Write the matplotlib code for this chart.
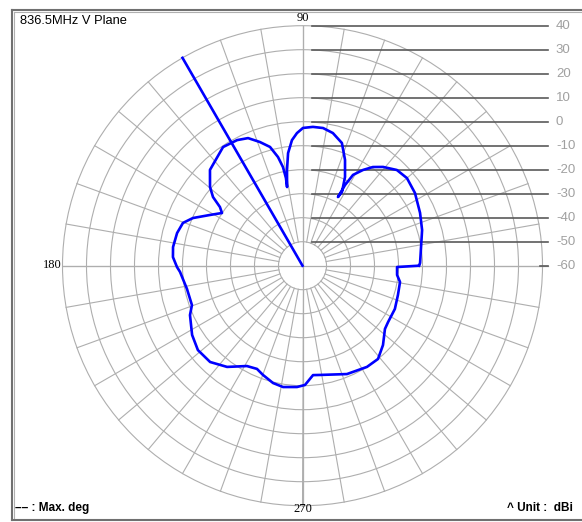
import numpy as np
import matplotlib.pyplot as plt
from matplotlib.patches import Circle

title = "836.5MHz V Plane"
angles = [0, 1.3, 16.6, 24.2, 32.9, 40.0, 45.4, 50.8, 54.5, 57.7, 60.9, 62.2, 62.7,
          61.8, 64.4, 68.1, 72.2, 77.1, 81.5, 85.7, 89.8, 92.4, 94.8, 97.3, 99.2, 101.1,
          100.7, 101.2, 102.7, 105.3, 109.0, 113.1, 117.5, 123.8, 134.0, 139.6, 142.5,
          144.6, 146.8, 151.3, 156.5, 160.3, 165.4, 171.8, 176.2, 180.6, 182.9, 191.4,
          199.6, 203.7, 212.1, 218.9, 226.2, 233.3, 241.0, 246.2, 250.1, 255.9, 260.9,
          267.4, 271.2, 275.5, 279.1, 292.3, 302.5, 309.0, 315.4, 322.5, 326.6, 334.9,
          342.9, 350.5, 354.4, 359.2]
gain = [-11.5, -11.0, -8.0, -6.3, -4.2, -3.2, -4.0, -6.9, -9.5, -12.8, -16.7, -22.0, -27.8,
        -25.2, -19.0, -12.5, -6.3, -3.3, -2.0, -2.0, -2.6, -4.7, -7.5, -12.7, -19.6, -26.6,
        -22.8, -18.1, -13.6, -8.7, -5.5, -2.2, -1.0, -0.5, -4.5, -9.4, -13.0,
        -17.8, -19.9, -16.0, -10.2, -7.1, -6.0, -5.5, -5.9, -7.7, -8.9, -10.9,
        -11.1, -8.8, -5.7, -4.0, -4.4, -7.4, -12.2, -13.0, -11.6, -9.6, -8.8,
        -9.4, -10.3, -14.2, -13.9, -11.2, -10.0, -10.0, -12.9, -16.7, -17.3, -17.5,
        -18.4, -18.8, -20.4, -20.6]
max_deg = 120
levels = [40, 30, 20, 10, 0, -10, -20, -30, -40, -50, -60]
angle_labels = ["90", "180", "270"]

r_min, r_max = -60, 40
grid_col = "#aeaeae"
level_col = "#5a5a5a"

fig = plt.figure(figsize=(5.82, 5.22), dpi=100)
ax = fig.add_axes([0, 0, 1, 1])
ax.set_xlim(-302.5 / 2.4, (582 - 302.5) / 2.4)
ax.set_ylim(-(522 - 265.7) / 2.4, 265.7 / 2.4)
ax.axis("off")

rmax = r_max - r_min
# rings and spokes
for lv in levels[:-1]:
    ax.add_patch(Circle((0, 0), lv - r_min, fill=False, ec=grid_col, lw=0.8))
for a in range(0, 360, 10):
    t = np.radians(a)
    ax.plot([10 * np.cos(t), rmax * np.cos(t)], [10 * np.sin(t), rmax * np.sin(t)],
            color=grid_col, lw=0.8)
ax.plot([-rmax, 102.3], [0, 0], color=grid_col, lw=0.9)
ax.plot([0, 0], [-rmax, rmax], color=grid_col, lw=0.9)

# level lines and labels on the right
for lv in levels:
    y = lv - r_min
    x0 = 4 if lv > r_min else 99
    ax.plot([x0, 102.3], [y, y], color=level_col, lw=1.2)
    ax.text(105.6, y, str(lv), color="#a0a0a0", fontsize=9.5,
            family="Liberation Sans", va="center", ha="left")

# pattern
th = np.radians(angles + [angles[0]])
rr = np.array(gain + [gain[0]]) - r_min
ax.plot(rr * np.cos(th), rr * np.sin(th), color="#0000ff", lw=1.9)

# max direction
tm = np.radians(max_deg)
ax.plot([0, rmax * np.cos(tm)], [0, rmax * np.sin(tm)], color="#0000ff", lw=1.9)

# frame and texts in pixel coordinates
deco = fig.add_axes([0, 0, 1, 1], facecolor="none")
deco.set_xlim(0, 582)
deco.set_ylim(522, 0)
deco.axis("off")
deco.plot([12, 12], [10, 520], color="#707070", lw=1.5)
deco.plot([14, 14], [12, 518], color="#b0b0b0", lw=0.8)
deco.plot([12, 582], [10, 10], color="#707070", lw=1.5)
deco.plot([14, 582], [12, 12], color="#b0b0b0", lw=0.8)
deco.plot([12, 582], [520, 520], color="#707070", lw=1.5)

deco.text(20, 21, title, fontsize=9.3, family="Liberation Sans", va="center", ha="left")
deco.text(302.5, 18, angle_labels[0], fontsize=9, family="Liberation Serif",
          va="center", ha="center")
deco.text(62, 265, angle_labels[1], fontsize=9, family="Liberation Serif",
          va="center", ha="right")
deco.text(302.5, 509, angle_labels[2], fontsize=9, family="Liberation Serif",
          va="center", ha="center")
deco.text(15, 508, "\u2013\u2013 : Max. deg", fontsize=8.5, fontweight="bold",
          family="Liberation Sans", va="center", ha="left")
deco.text(573, 508, "^ Unit :  dBi", fontsize=8.5, fontweight="bold",
          family="Liberation Sans", va="center", ha="right")

fig.savefig("out.png", dpi=100)
